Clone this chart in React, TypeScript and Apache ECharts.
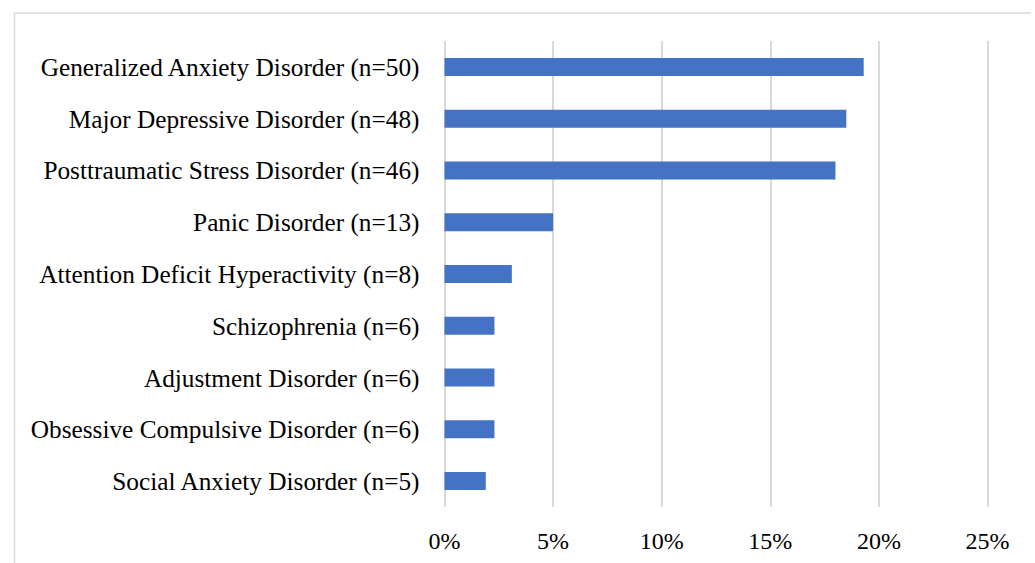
import React, { useEffect, useRef } from "react";
import * as echarts from "echarts";

// Diagnoses, listed top to bottom
const categories: string[] = [
  "Generalized Anxiety Disorder (n=50)",
  "Major Depressive Disorder (n=48)",
  "Posttraumatic Stress Disorder (n=46)",
  "Panic Disorder (n=13)",
  "Attention Deficit Hyperactivity (n=8)",
  "Schizophrenia (n=6)",
  "Adjustment Disorder (n=6)",
  "Obsessive Compulsive Disorder (n=6)",
  "Social Anxiety Disorder (n=5)",
];

// Share of participants (%) for each diagnosis, same order as above
const shares: number[] = [19.3, 18.5, 18.0, 5.0, 3.1, 2.3, 2.3, 2.3, 1.9];

// Value-axis ticks (%)
const xTicks: number[] = [0, 5, 10, 15, 20, 25];

const FONT = "'Liberation Serif', 'Times New Roman', serif";

export default function App() {
  const ref = useRef<HTMLDivElement>(null);

  useEffect(() => {
    if (!ref.current) return;
    const chart = echarts.init(ref.current, undefined, { renderer: "svg" });
    chart.setOption({
      animation: false,
      backgroundColor: "#ffffff",
      grid: { left: 444.5, right: 47.5, top: 41, height: 466, containLabel: false },
      xAxis: {
        type: "value",
        min: xTicks[0],
        max: xTicks[xTicks.length - 1],
        interval: 5,
        axisLine: { show: false },
        axisTick: { show: false },
        splitLine: { show: true, lineStyle: { color: "#d9d9d9", width: 2 } },
        axisLabel: {
          formatter: (v: number) => `${v}%`,
          color: "#000",
          fontFamily: FONT,
          fontSize: 24,
          margin: 22,
        },
      },
      yAxis: {
        type: "category",
        inverse: true,
        data: categories,
        axisLine: { show: false },
        axisTick: { show: false },
        splitLine: { show: false },
        axisLabel: {
          color: "#000",
          fontFamily: FONT,
          fontSize: 25.3,
          margin: 25,
        },
      },
      series: [
        {
          type: "bar",
          data: shares,
          barWidth: 18,
          itemStyle: { color: "#4472c4" },
        },
      ],
      graphic: [
        {
          type: "line",
          shape: { x1: 14, y1: 13, x2: 1031, y2: 13 },
          style: { stroke: "#d9d9d9", lineWidth: 1.5 },
          silent: true,
        },
        {
          type: "line",
          shape: { x1: 14.5, y1: 13, x2: 14.5, y2: 563 },
          style: { stroke: "#d9d9d9", lineWidth: 1.5 },
          silent: true,
        },
      ],
    });
    return () => chart.dispose();
  }, []);

  return (
    <div
      ref={ref}
      style={{ position: "fixed", left: 0, top: 0, width: 1035, height: 563 }}
    />
  );
}
